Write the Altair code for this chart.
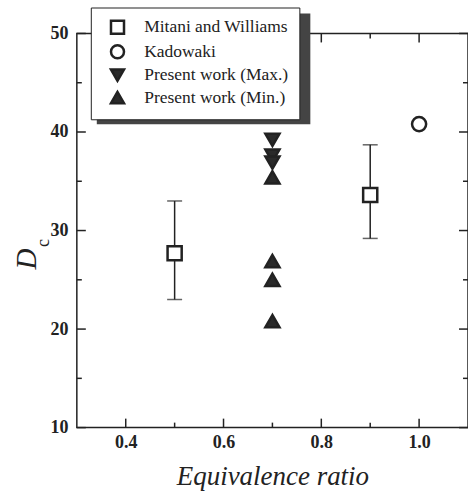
import altair as alt
import pandas as pd

# ---------------- data ----------------
series_names = ["Mitani and Williams", "Kadowaki", "Present work (Max.)", "Present work (Min.)"]

mitani_x = [0.5, 0.9]
mitani_y = [27.7, 33.6]
mitani_lo = [23.0, 29.2]
mitani_hi = [33.0, 38.7]

kadowaki_x = [1.0]
kadowaki_y = [40.8]

max_x = [0.7, 0.7, 0.7]
max_y = [39.2, 37.6, 36.9]

min_x = [0.7, 0.7, 0.7, 0.7]
min_y = [35.4, 26.9, 25.0, 20.8]

x_major = [0.4, 0.6, 0.8, 1.0]
x_minor = [0.5, 0.7, 0.9]
y_major = [10, 20, 30, 40, 50]
y_minor = [15, 25, 35, 45]

INK = "#222222"
FONT = "Liberation Serif"
W, H = 392, 395

rows = []
for xs, ys, name in [(mitani_x, mitani_y, series_names[0]),
                     (kadowaki_x, kadowaki_y, series_names[1]),
                     (max_x, max_y, series_names[2]),
                     (min_x, min_y, series_names[3])]:
    for a, b in zip(xs, ys):
        rows.append({"x": a, "y": b, "series": name})
pts = pd.DataFrame(rows)
err = pd.DataFrame({"x": mitani_x, "lo": mitani_lo, "hi": mitani_hi})

xscale = alt.Scale(domain=[0.3, 1.1], nice=False, zero=False)
yscale = alt.Scale(domain=[10, 50], nice=False, zero=False)
lab = dict(labelFont=FONT, labelFontSize=18, labelFontWeight="bold", labelColor=INK)
xaxis = alt.Axis(values=x_major, format=".1f", ticks=False, domain=False, grid=False,
                 labelPadding=6, title="Equivalence ratio", titlePadding=12,
                 titleFont=FONT, titleFontSize=27, titleFontStyle="italic",
                 titleFontWeight="normal", titleColor=INK, **lab)
yaxis = alt.Axis(values=y_major, ticks=False, domain=False, grid=False,
                 labelPadding=9, title=None, **lab)


def X(field):
    return alt.X(field, type="quantitative", scale=xscale, axis=xaxis)


def Y(field):
    return alt.Y(field, type="quantitative", scale=yscale, axis=yaxis)


leg = alt.Legend(title=None, orient="none", legendX=14, legendY=-26, zindex=5,
                 labelFont=FONT, labelFontSize=17.5, labelColor=INK,
                 symbolSize=170, symbolStrokeWidth=2.5,
                 rowPadding=0.5, padding=11, symbolOffset=7, labelOffset=18,
                 fillColor="white", strokeColor=INK)
fill_range = ["white", "white", "#2a2a2a", "#2a2a2a"]
shape_range = ["square", "circle", "triangle-down", "triangle-up"]

# legend drop shadow (sits behind the legend box)
shadow = alt.Chart(pd.DataFrame({"s": [0]})).mark_rect(fill="#444444").encode(
    x=alt.value(20), x2=alt.value(234), y=alt.value(-20), y2=alt.value(91))

# error bars
err_rule = alt.Chart(err).mark_rule(color=INK, strokeWidth=1.5).encode(
    x=X("x"), y=Y("lo"), y2="hi")
cap_lo = alt.Chart(err).mark_tick(color=INK, orient="horizontal", size=15, thickness=1.5).encode(
    x=X("x"), y=Y("lo"))
cap_hi = alt.Chart(err).mark_tick(color=INK, orient="horizontal", size=15, thickness=1.5).encode(
    x=X("x"), y=Y("hi"))

points = alt.Chart(pts).mark_point(filled=True, opacity=1, strokeWidth=2.5, size=200).encode(
    x=X("x"), y=Y("y"),
    shape=alt.Shape("series:N", scale=alt.Scale(domain=series_names, range=shape_range), legend=leg),
    fill=alt.Fill("series:N", scale=alt.Scale(domain=series_names, range=fill_range), legend=leg),
    stroke=alt.Stroke("series:N", scale=alt.Scale(domain=series_names, range=[INK] * 4), legend=leg),
)

# inward ticks
ymaj = pd.DataFrame({"v": y_major})
ymin = pd.DataFrame({"v": y_minor})
xmaj = pd.DataFrame({"v": x_major})
xmin = pd.DataFrame({"v": x_minor})
tk = dict(color=INK, strokeWidth=1.5)
ticks = [
    alt.Chart(ymaj).mark_rule(**tk).encode(y=Y("v"), x=alt.value(0), x2=alt.value(9)),
    alt.Chart(ymin).mark_rule(**tk).encode(y=Y("v"), x=alt.value(0), x2=alt.value(5)),
    alt.Chart(ymaj).mark_rule(**tk).encode(y=Y("v"), x=alt.value(W - 9), x2=alt.value(W)),
    alt.Chart(ymin).mark_rule(**tk).encode(y=Y("v"), x=alt.value(W - 5), x2=alt.value(W)),
    alt.Chart(xmaj).mark_rule(**tk).encode(x=X("v"), y=alt.value(H), y2=alt.value(H - 9)),
    alt.Chart(xmin).mark_rule(**tk).encode(x=X("v"), y=alt.value(H), y2=alt.value(H - 5)),
    alt.Chart(xmaj).mark_rule(**tk).encode(x=X("v"), y=alt.value(0), y2=alt.value(9)),
    alt.Chart(xmin).mark_rule(**tk).encode(x=X("v"), y=alt.value(0), y2=alt.value(5)),
]

# y-axis title D with subscript c
ytitle_D = alt.Chart(pd.DataFrame({"t": ["D"]})).mark_text(
    font=FONT, fontSize=29, fontStyle="italic", angle=270, color=INK,
    align="center", baseline="middle").encode(text="t:N", x=alt.value(-50), y=alt.value(226))
ytitle_c = alt.Chart(pd.DataFrame({"t": ["c"]})).mark_text(
    font=FONT, fontSize=18, angle=270, color=INK,
    align="center", baseline="middle").encode(text="t:N", x=alt.value(-33), y=alt.value(210))

chart = alt.layer(shadow, *ticks, err_rule, cap_lo, cap_hi, points, ytitle_D, ytitle_c).properties(
    width=W, height=H,
    autosize=alt.AutoSizeParams(type="none"),
    padding={"left": 77, "top": 33, "right": 0, "bottom": 67},
).configure_view(
    stroke=INK, strokeWidth=1.5
)

chart.save("out.html", embed_options={"renderer": "svg", "actions": False})
